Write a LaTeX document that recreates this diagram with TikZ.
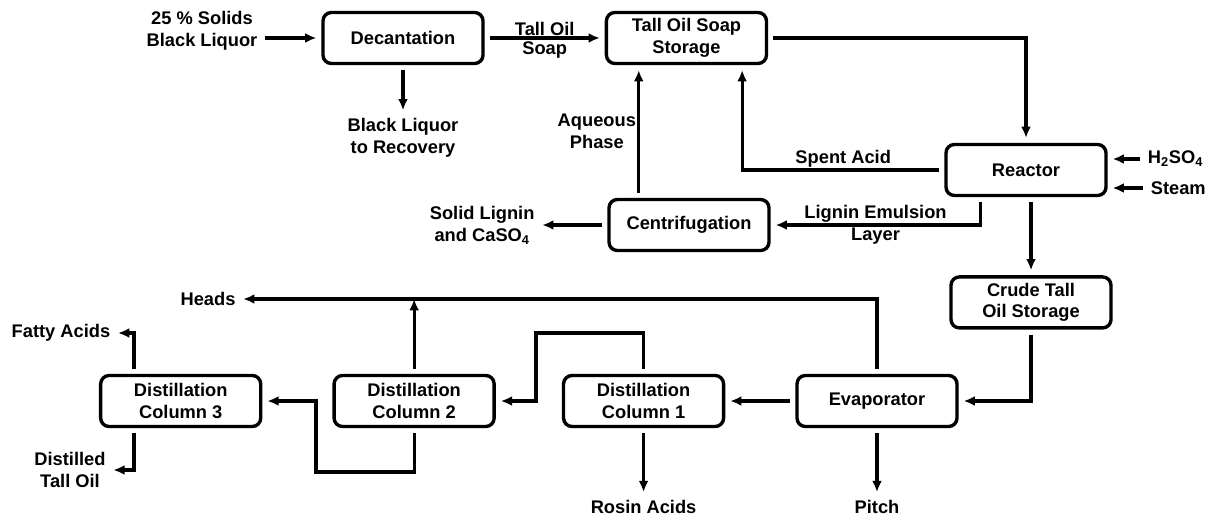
\documentclass[tikz,border=0pt]{standalone}
\usepackage{fontspec}
\setsansfont{Liberation Sans}
\usepackage{tikz}
\usetikzlibrary{arrows.meta,positioning,calc}
\tikzset{
  >={Latex[length=8pt,width=7pt]},
  node distance=1.5cm,
  unit/.style={
    draw,
    line width=2.4pt,
    rounded corners=6pt,
    minimum width=4cm,
    minimum height=1.275cm,
    align=center,
    font=\sffamily\bfseries\fontsize{13}{15.5}\selectfont
  },
  stream/.style={
    align=center,
    inner sep=1pt,
    outer sep=1pt,
    font=\sffamily\bfseries\fontsize{13}{15.5}\selectfont
  },
  arrow/.style={->, line width=2.2pt, shorten <=3.5pt, shorten >=3.5pt}
}

\begin{document}
\begin{tikzpicture}[x=0.025cm, y=-0.025cm]
  \useasboundingbox (0,0) rectangle (1208,519);

  % upper part
  \node[unit] (decant) at (403,38) {Decantation};
  \node[unit, right=3cm of decant] (soap) {Tall Oil Soap\\Storage};
  \node[unit] (reactor) at (1026,170) {Reactor};
  \node[unit] (centrif) at (689,225) {Centrifugation};
  \node[unit, below=1.95cm of reactor, xshift=0.125cm] (crude) {Crude Tall\\Oil Storage};

  \node[stream] (feed) at (202,31) {25 \% Solids\\Black Liquor};
  \node[stream, below=1.25cm of decant] (recovery) {Black Liquor\\to Recovery};
  \node[stream, left=1.75cm of centrif] (lignin) {Solid Lignin\\and CaSO\textsubscript{4}};
  \node[stream, anchor=west] (acid) at (1145,159) {H\textsubscript{2}SO\textsubscript{4}};
  \node[stream, anchor=west] (steam) at (1148,188) {Steam};

  % lower part
  \node[unit] (evap) at (877,401) {Evaporator};
  \node[unit, left=1.75cm of evap] (dist1) {Distillation\\Column 1};
  \node[unit, left=1.65cm of dist1] (dist2) {Distillation\\Column 2};
  \node[unit, left=1.75cm of dist2] (dist3) {Distillation\\Column 3};

  \node[stream, below=1.72cm of evap] (pitch) {Pitch};
  \node[stream, below=1.72cm of dist1] (rosin) {Rosin Acids};
  \node[stream] (heads) at (208,299) {Heads};
  \node[stream] (fatty) at (61,333) {Fatty Acids};
  \node[stream] (distilled) at (70,470) {Distilled\\Tall Oil};

  \coordinate (aq) at ([xshift=0.85cm]soap.south west);
  \coordinate (loop1) at (536,333);
  \coordinate (loop2) at (316,472);

  \draw[arrow] (feed.east |- decant) -- (decant);
  \draw[arrow] (decant) -- (soap)
    node[stream, midway, above] {Tall Oil}
    node[stream, midway, below, yshift=-1pt] {Soap};
  \draw[arrow] (decant) -- (recovery);
  \draw[arrow] (soap) -| (reactor);
  \draw[arrow] (reactor) -| ([xshift=-0.65cm]soap.south east)
    node[stream, pos=0.25, above] {Spent Acid};
  \draw[arrow] (centrif.north -| aq) -- (aq)
    node[stream, midway, left] {Aqueous\\Phase};
  \draw[arrow] ([xshift=0.9cm]reactor.south west) |- (centrif)
    node[stream, pos=0.75, above] {Lignin Emulsion}
    node[stream, pos=0.75, below] {Layer};
  \draw[arrow] (centrif) -- (lignin);
  \draw[arrow] (acid) -- (acid -| reactor.east);
  \draw[arrow] (steam) -- (steam -| reactor.east);
  \draw[arrow] (reactor.south -| crude.north) -- (crude);
  \draw[arrow] (crude) |- (evap);

  \draw[arrow] (evap) -- (pitch);
  \draw[arrow] (evap) -- (dist1);
  \draw[arrow] (dist1) -- (rosin);
  \draw[arrow] (evap) |- (heads);
  \draw[arrow, shorten >=0pt] (dist2) -- (dist2 |- heads);
  \draw[arrow] (dist1) |- (loop1) |- (dist2);
  \draw[arrow] (dist2) |- (loop2) |- (dist3);
  \draw[arrow] ([xshift=0.875cm]dist3.north west) |- (fatty);
  \draw[arrow] ([xshift=0.875cm]dist3.south west) |- (distilled);
\end{tikzpicture}
\end{document}
